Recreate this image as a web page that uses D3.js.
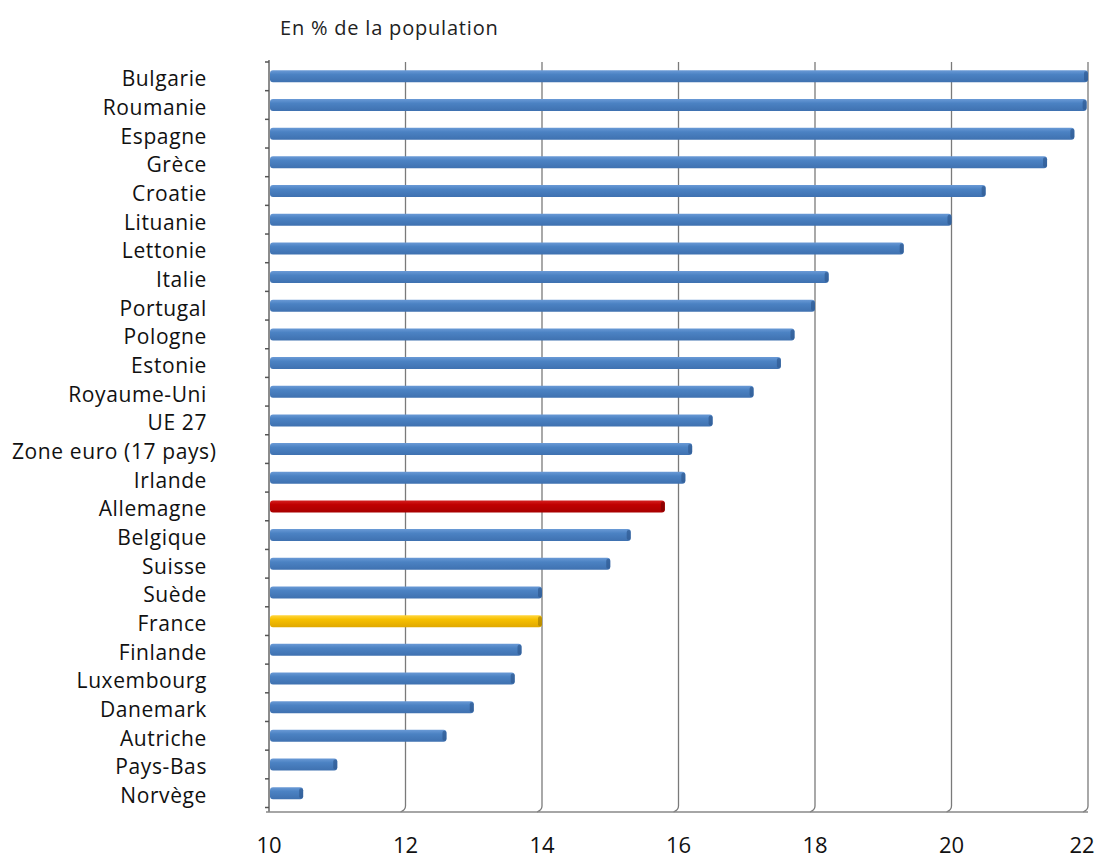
<!DOCTYPE html>
<html><head><meta charset="utf-8">
<script src="https://cdn.jsdelivr.net/npm/d3@7"></script>
<style>body{margin:0;background:#fff;} svg{display:block;}</style>
</head><body>
<script>
const categories = ["Bulgarie","Roumanie","Espagne","Grèce","Croatie","Lituanie","Lettonie","Italie","Portugal","Pologne","Estonie","Royaume-Uni","UE 27","Zone euro (17 pays)","Irlande","Allemagne","Belgique","Suisse","Suède","France","Finlande","Luxembourg","Danemark","Autriche","Pays-Bas","Norvège"];
const values = [22.0,21.98,21.8,21.4,20.5,20.0,19.3,18.2,18.0,17.7,17.5,17.1,16.5,16.2,16.1,15.8,15.3,15.0,14.0,14.0,13.7,13.6,13.0,12.6,11.0,10.5];
const highlight = {"Allemagne":"red","France":"yellow"};
const xTicks = [10,12,14,16,18,20,22];
const unitLabel = "En % de la population";

const W=1100,H=859;
const svg=d3.select("body").append("svg").attr("width",W).attr("height",H);
const defs=svg.append("defs");
function grad(id,c1,c2,c3){
  const g=defs.append("linearGradient").attr("id",id).attr("x1",0).attr("y1",0).attr("x2",0).attr("y2",1);
  g.append("stop").attr("offset","0%").attr("stop-color",c1);
  g.append("stop").attr("offset","35%").attr("stop-color",c2);
  g.append("stop").attr("offset","100%").attr("stop-color",c3);
}
grad("gblue","#6a9ad6","#4b82c3","#3f71b0");
grad("gred","#d42020","#c00000","#a80000");
grad("gyellow","#ffd640","#f7c000","#e0a800");
const ends={blue:"#2f5a92",red:"#7a0000",yellow:"#a88000"};

const x=d3.scaleLinear().domain([10,22]).range([269,1088]);
const y=d3.scaleBand().domain(categories).range([62,807.5]);
const font="'Open Sans', sans-serif";

// gridlines
svg.append("g").selectAll("line").data(xTicks.slice(1)).join("line")
  .attr("x1",d=>x(d)).attr("x2",d=>x(d)).attr("y1",62).attr("y2",806)
  .attr("stroke","#7a7a7a").attr("stroke-width",1.3);
svg.append("g").selectAll("path").data(xTicks.slice(1)).join("path")
  .attr("d",d=>`M${x(d)},806 Q${x(d)},810 ${x(d)-5},812`)
  .attr("fill","none").attr("stroke","#7a7a7a").attr("stroke-width",1.3);

// axes lines
svg.append("line").attr("x1",269).attr("x2",269).attr("y1",60).attr("y2",812).attr("stroke","#666").attr("stroke-width",1.5);
svg.append("line").attr("x1",266).attr("x2",x(22)).attr("y1",812).attr("y2",812).attr("stroke","#888").attr("stroke-width",1.5);
const bounds=categories.map(c=>y(c)).concat([y.range()[1]]);
svg.append("g").selectAll("line").data(bounds).join("line")
  .attr("x1",265).attr("x2",269).attr("y1",d=>d).attr("y2",d=>d)
  .attr("stroke","#555").attr("stroke-width",1.5);

// bars
const bh=12;
const rows=svg.append("g").selectAll("g").data(categories).join("g");
rows.append("rect")
  .attr("x",x(10)+1).attr("y",c=>y(c)+y.bandwidth()/2-bh/2)
  .attr("width",(c,i)=>x(values[i])-x(10)-1).attr("height",bh).attr("rx",3)
  .attr("fill",c=>`url(#g${highlight[c]||"blue"})`);
rows.append("rect")
  .attr("x",(c,i)=>x(values[i])-4).attr("y",c=>y(c)+y.bandwidth()/2-bh/2+1)
  .attr("width",4).attr("height",bh-2).attr("rx",2)
  .attr("fill",c=>ends[highlight[c]||"blue"]).attr("opacity",0.7);

// category labels
rows.append("text").attr("font-family",font).attr("font-size",21).attr("letter-spacing",0.6).attr("fill","#111")
  .attr("y",c=>y(c)+y.bandwidth()/2+10)
  .text(c=>c)
  .each(function(){
    const w=this.getComputedTextLength();
    d3.select(this).attr("x",Math.max(12,207-w));
  });

// x tick labels
svg.append("g").selectAll("text").data(xTicks).join("text")
  .attr("x",d=>Math.min(x(d),W-18)).attr("y",853).attr("text-anchor","middle")
  .attr("font-family",font).attr("font-size",22).attr("fill","#111").text(d=>d);

svg.append("text").attr("x",280).attr("y",35)
  .attr("font-family",font).attr("font-size",20).attr("letter-spacing",0.8).attr("fill","#222").text(unitLabel);
</script>
</body></html>
